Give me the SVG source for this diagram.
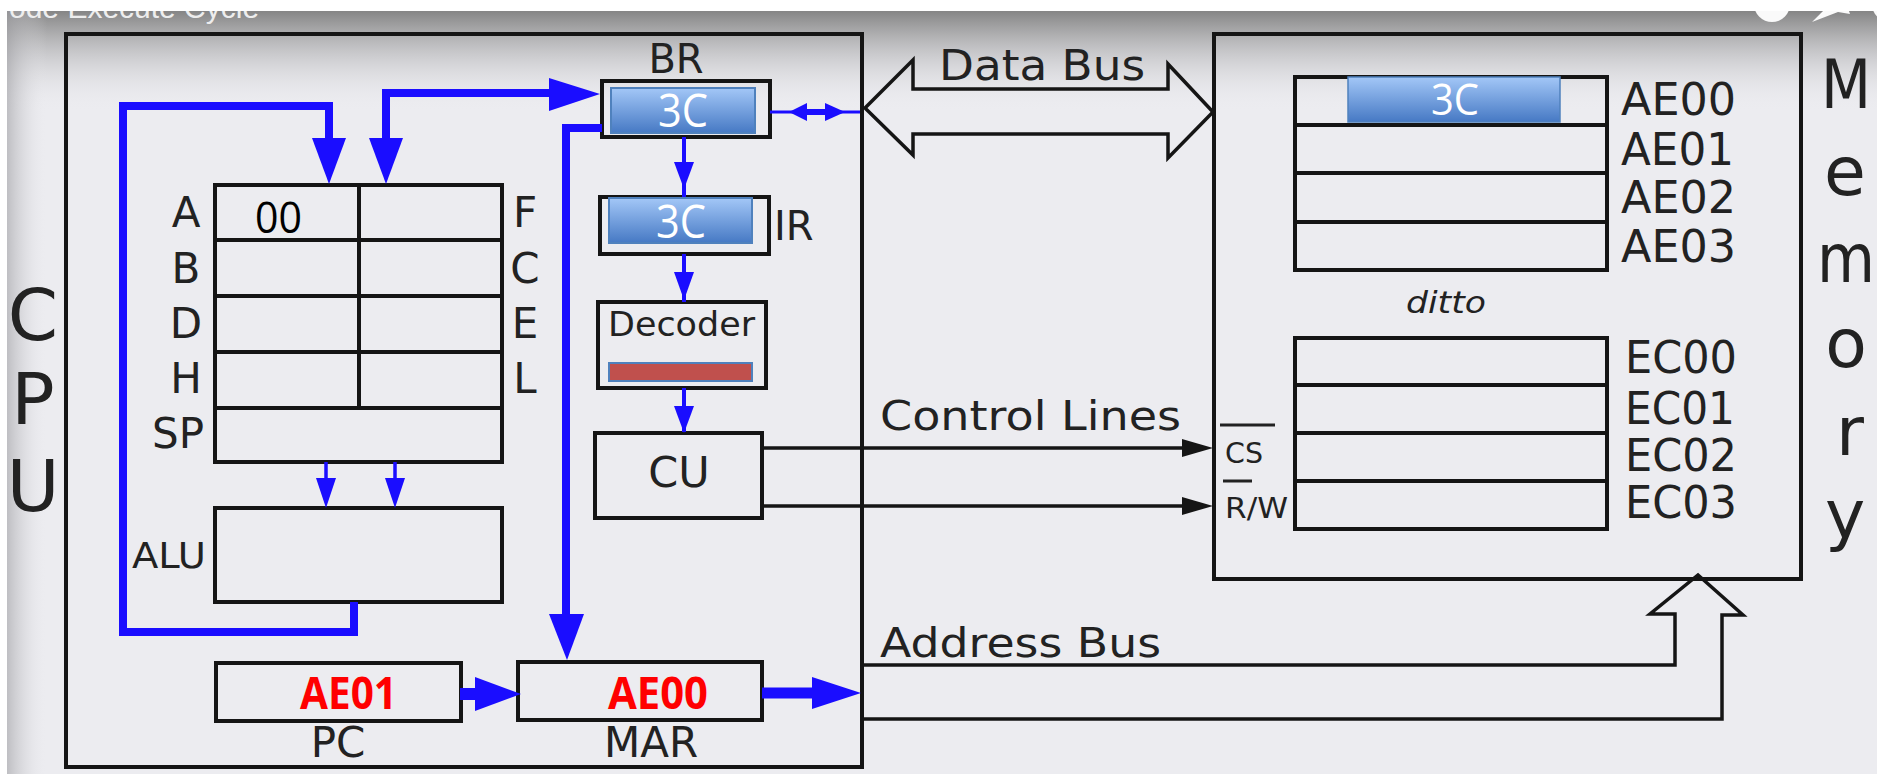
<svg xmlns="http://www.w3.org/2000/svg" width="1888" height="774" viewBox="0 0 1888 774">
<style>
.box{fill:none;stroke:#151515;stroke-width:4}
.thin{fill:none;stroke:#151515;stroke-width:3.5}
.lbl{font-family:"DejaVu Sans",Verdana,sans-serif;fill:#222}
.cal{font-family:"Open Sans",sans-serif}
.val{font-family:"Open Sans",sans-serif;fill:#fff;text-anchor:middle}
.red{font-family:"Open Sans",sans-serif;font-weight:bold;fill:#ff0000}
.bl{fill:none;stroke:#1a0dff;stroke-linejoin:miter}
.bh{fill:#1a0dff}
.kh{fill:#151515}
.big{font-family:"DejaVu Sans",Verdana,sans-serif;fill:#222;text-anchor:middle}
</style>
<defs>
<linearGradient id="gBlue" x1="0" y1="0" x2="0" y2="1">
<stop offset="0" stop-color="#a3c7f7"/>
<stop offset="1" stop-color="#4679c4"/>
</linearGradient>
<linearGradient id="gTop" x1="0" y1="0" x2="0" y2="1">
<stop offset="0" stop-color="#858585" stop-opacity="1"/>
<stop offset="0.35" stop-color="#b4b4b6" stop-opacity="0.8"/>
<stop offset="1" stop-color="#ececf0" stop-opacity="0"/>
</linearGradient>
<linearGradient id="gLeft" x1="0" y1="0" x2="1" y2="0">
<stop offset="0" stop-color="#a0a0a4" stop-opacity="0.6"/>
<stop offset="1" stop-color="#ececf0" stop-opacity="0"/>
</linearGradient>
</defs>

<!-- background -->
<rect x="0" y="0" width="1888" height="774" fill="#ececf0"/>
<rect x="0" y="11" width="1888" height="100" fill="url(#gTop)"/>
<rect x="7" y="11" width="40" height="763" fill="url(#gLeft)"/>
<text x="9" y="18" font-family="'Liberation Sans',Arial,sans-serif" font-size="30" fill="#ededed">ode Execute Cycle</text>
<circle cx="1772" cy="4" r="18" fill="#fafafa"/>
<path d="M1812 22 L1826 8 L1840 8 L1846 2 L1850 14 L1838 12 Z" fill="#fafafa"/>
<circle cx="1890" cy="4" r="18" fill="#fafafa"/>
<rect x="0" y="0" width="1888" height="11" fill="#ffffff"/>
<rect x="0" y="0" width="7" height="774" fill="#ffffff"/>
<rect x="1877" y="0" width="11" height="774" fill="#ffffff"/>

<!-- CPU -->
<g id="cpu">
<rect class="box" x="66" y="34" width="796" height="733"/>
<text class="big" x="33" y="340" font-size="72">C</text>
<text class="big" x="33" y="424" font-size="72">P</text>
<text class="big" x="33" y="511" font-size="72">U</text>
</g>

<g id="regfile">
<rect class="box" x="215" y="185" width="287" height="277"/>
<path class="box" d="M215 240 H502 M215 296 H502 M215 352 H502 M215 408 H502 M359 185 V408"/>
<text class="lbl" x="186" y="227" font-size="42" text-anchor="middle">A</text>
<text class="lbl" x="186" y="283" font-size="42" text-anchor="middle">B</text>
<text class="lbl" x="186" y="338" font-size="42" text-anchor="middle">D</text>
<text class="lbl" x="186" y="393" font-size="42" text-anchor="middle">H</text>
<text class="lbl" x="178" y="448" font-size="42" text-anchor="middle">SP</text>
<text class="lbl" x="525" y="227" font-size="42" text-anchor="middle">F</text>
<text class="lbl" x="525" y="283" font-size="42" text-anchor="middle">C</text>
<text class="lbl" x="525" y="338" font-size="42" text-anchor="middle">E</text>
<text class="lbl" x="525" y="393" font-size="42" text-anchor="middle">L</text>
<text class="cal" x="255" y="233" font-size="44" fill="#000" textLength="47" lengthAdjust="spacingAndGlyphs">00</text>
</g>

<g id="alu">
<rect class="box" x="215" y="508" width="287" height="94"/>
<text class="lbl" x="132" y="568" font-size="36" textLength="74" lengthAdjust="spacingAndGlyphs">ALU</text>
</g>

<g id="pc">
<rect class="box" x="216" y="663" width="245" height="58"/>
<text class="red" x="300" y="709" font-size="45" textLength="97" lengthAdjust="spacingAndGlyphs">AE01</text>
<text class="lbl" x="338" y="757" font-size="42" text-anchor="middle">PC</text>
</g>

<g id="mar">
<rect class="box" x="518" y="662" width="244" height="58"/>
<text class="red" x="608" y="709" font-size="45" textLength="100" lengthAdjust="spacingAndGlyphs">AE00</text>
<text class="lbl" x="651" y="757" font-size="42" text-anchor="middle">MAR</text>
</g>

<g id="br">
<text class="lbl" x="676" y="73" font-size="40" text-anchor="middle">BR</text>
<rect class="box" x="602" y="81" width="168" height="56"/>
<rect x="611" y="88" width="144" height="45" fill="url(#gBlue)" stroke="#4f81bd" stroke-width="2"/>
<text class="val" x="683" y="127" font-size="46" textLength="50" lengthAdjust="spacingAndGlyphs">3C</text>
</g>

<g id="ir">
<rect class="box" x="600" y="197" width="169" height="57"/>
<rect x="609" y="198" width="143" height="45" fill="url(#gBlue)" stroke="#4f81bd" stroke-width="2"/>
<text class="val" x="681" y="238" font-size="46" textLength="50" lengthAdjust="spacingAndGlyphs">3C</text>
<text class="lbl" x="774" y="240" font-size="40">IR</text>
</g>

<g id="decoder">
<rect class="box" x="598" y="302" width="168" height="86"/>
<text class="lbl" x="608" y="336" font-size="33" textLength="147" lengthAdjust="spacingAndGlyphs">Decoder</text>
<rect x="609" y="363" width="143" height="18" fill="#c0504d" stroke="#4f81bd" stroke-width="2"/>
</g>

<g id="cu">
<rect class="box" x="595" y="433" width="167" height="85"/>
<text class="lbl" x="679" y="487" font-size="43" text-anchor="middle">CU</text>
</g>

<!-- Memory -->
<g id="memory">
<rect class="box" x="1214" y="34" width="587" height="545"/>
<text class="big" x="1846" y="108" font-size="68" textLength="50" lengthAdjust="spacingAndGlyphs">M</text>
<text class="big" x="1845" y="195" font-size="68">e</text>
<text class="big" x="1846" y="282" font-size="68" textLength="58" lengthAdjust="spacingAndGlyphs">m</text>
<text class="big" x="1846" y="367" font-size="68">o</text>
<text class="big" x="1850" y="455" font-size="68">r</text>
<text class="big" x="1845" y="538" font-size="68">y</text>
</g>

<g id="mem-ae">
<rect class="box" x="1295" y="77" width="312" height="193"/>
<path class="box" d="M1295 125 H1607 M1295 173 H1607 M1295 222 H1607"/>
<rect x="1348" y="77" width="212" height="45" fill="url(#gBlue)" stroke="#4f81bd" stroke-width="1.5"/>
<text class="val" x="1455" y="115" font-size="44" textLength="48" lengthAdjust="spacingAndGlyphs">3C</text>
<text class="lbl" x="1621" y="115" font-size="44" textLength="115" lengthAdjust="spacingAndGlyphs">AE00</text>
<text class="lbl" x="1621" y="165" font-size="44" textLength="113" lengthAdjust="spacingAndGlyphs">AE01</text>
<text class="lbl" x="1621" y="213" font-size="44" textLength="115" lengthAdjust="spacingAndGlyphs">AE02</text>
<text class="lbl" x="1621" y="262" font-size="44" textLength="115" lengthAdjust="spacingAndGlyphs">AE03</text>
<text class="lbl" x="1406" y="313" font-size="31" font-style="italic" textLength="80" lengthAdjust="spacingAndGlyphs">ditto</text>
</g>

<g id="mem-ec">
<rect class="box" x="1295" y="338" width="312" height="191"/>
<path class="box" d="M1295 385 H1607 M1295 433 H1607 M1295 481 H1607"/>
<text class="lbl" x="1625" y="373" font-size="44" textLength="112" lengthAdjust="spacingAndGlyphs">EC00</text>
<text class="lbl" x="1625" y="424" font-size="44" textLength="110" lengthAdjust="spacingAndGlyphs">EC01</text>
<text class="lbl" x="1625" y="471" font-size="44" textLength="112" lengthAdjust="spacingAndGlyphs">EC02</text>
<text class="lbl" x="1625" y="518" font-size="44" textLength="112" lengthAdjust="spacingAndGlyphs">EC03</text>
<path d="M1220 425 H1275 M1223 481 H1252" stroke="#222" stroke-width="3"/>
<text class="lbl" x="1225" y="463" font-size="29" textLength="38" lengthAdjust="spacingAndGlyphs">CS</text>
<text class="lbl" x="1225" y="518" font-size="29" textLength="63" lengthAdjust="spacingAndGlyphs">R/W</text>
</g>

<!-- connectors -->
<g id="connectors">
<!-- ALU output to A -->
<path class="bl" stroke-width="8" d="M354 602 V632 H123 V106 H329 V142"/>
<polygon class="bh" points="312,138 346,138 329,184"/>
<!-- BR to/from register -->
<path class="bl" stroke-width="8" d="M386 142 V93 H555"/>
<polygon class="bh" points="369,138 403,138 386,184"/>
<polygon class="bh" points="549,78 549,111 600,94"/>
<!-- BR to MAR -->
<path class="bl" stroke-width="8" d="M602 128 H566 V618"/>
<polygon class="bh" points="549,614 584,614 567,660"/>
<!-- PC to MAR -->
<path class="bl" stroke-width="12" d="M460 694 H480"/>
<polygon class="bh" points="475,677 475,711 521,694"/>
<!-- MAR out -->
<path class="bl" stroke-width="11" d="M762 693 H816"/>
<polygon class="bh" points="812,677 812,709 861,693"/>
<!-- BR <-> data bus -->
<path class="bl" stroke-width="3" d="M770 112 H860"/>
<path class="bl" stroke-width="6" d="M800 112 H830"/>
<polygon class="bh" points="789,112 807,103 807,121"/>
<polygon class="bh" points="825,103 825,121 845,112"/>
<!-- internal thin blue -->
<path class="bl" stroke-width="4" d="M684 137 V197 M684 254 V302 M684 388 V432"/>
<polygon class="bh" points="674,162 694,162 684,189"/>
<polygon class="bh" points="674,272 694,272 684,300"/>
<polygon class="bh" points="674,406 694,406 684,433"/>
<path class="bl" stroke-width="3.5" d="M326 462 V500 M395 462 V500"/>
<polygon class="bh" points="316,478 336,478 326,508"/>
<polygon class="bh" points="385,478 405,478 395,508"/>
<!-- Data bus -->
<polygon class="thin" stroke-width="4" points="865,108 913,60 913,89 1168,89 1168,64 1213,112 1168,158 1168,134 913,134 913,155"/>
<text class="lbl" x="939" y="80" font-size="42" textLength="206" lengthAdjust="spacingAndGlyphs">Data Bus</text>
<!-- Control lines -->
<path class="thin" d="M762 448 H1190 M762 506 H1190"/>
<polygon class="kh" points="1182,439 1182,457 1213,448"/>
<polygon class="kh" points="1182,497 1182,515 1213,506"/>
<text class="lbl" x="880" y="430" font-size="40" textLength="301" lengthAdjust="spacingAndGlyphs">Control Lines</text>
<!-- Address bus -->
<path class="thin" stroke-width="4" d="M863 665 H1675 V614 H1650 L1698 575 L1743 615 H1722 V719 H863"/>
<text class="lbl" x="880" y="657" font-size="40" textLength="281" lengthAdjust="spacingAndGlyphs">Address Bus</text>
</g>
</svg>
